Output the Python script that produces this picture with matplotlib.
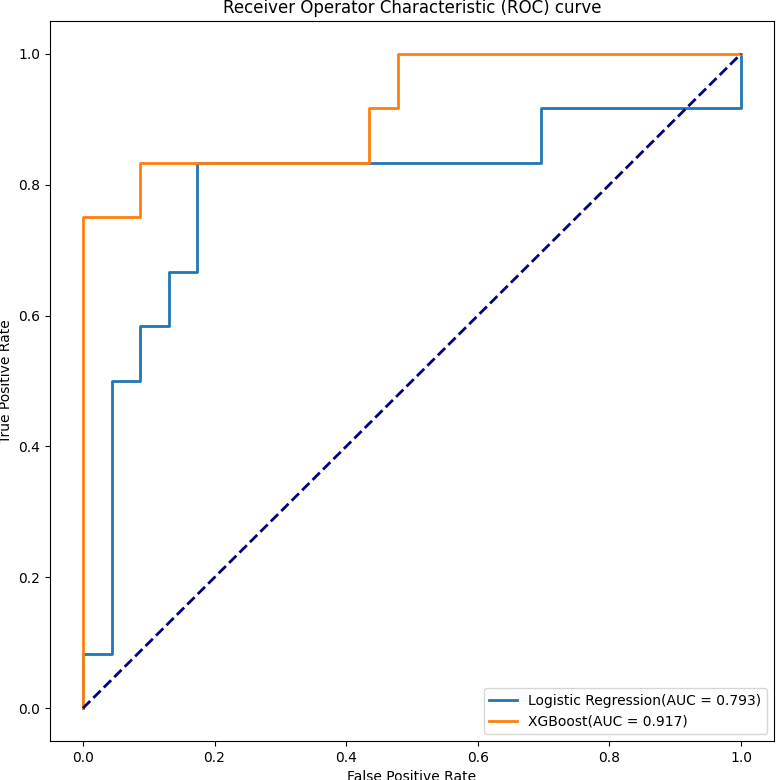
import matplotlib
matplotlib.use("Agg")
import matplotlib.pyplot as plt

# ROC points (23 negatives, 12 positives)
lr_fpr = [0, 0, 1/23, 1/23, 2/23, 2/23, 3/23, 3/23, 4/23, 4/23, 16/23, 16/23, 1, 1]
lr_tpr = [0, 1/12, 1/12, 6/12, 6/12, 7/12, 7/12, 8/12, 8/12, 10/12, 10/12, 11/12, 11/12, 1]
lr_auc = 0.793

xgb_fpr = [0, 0, 2/23, 2/23, 10/23, 10/23, 11/23, 11/23, 1]
xgb_tpr = [0, 9/12, 9/12, 10/12, 10/12, 11/12, 11/12, 1, 1]
xgb_auc = 0.917

fig = plt.figure(figsize=(7.77, 7.8), dpi=100)
ax = fig.add_axes([50/777, 1 - 741/780, 724/777, 720/780])

ax.plot(lr_fpr, lr_tpr, lw=2, label=f"Logistic Regression(AUC = {lr_auc:.3f})")
ax.plot(xgb_fpr, xgb_tpr, lw=2, label=f"XGBoost(AUC = {xgb_auc:.3f})")
ax.plot([0, 1], [0, 1], color="navy", lw=2, linestyle="--")

ax.set_xlabel("False Positive Rate")
ax.set_ylabel("True Positive Rate")
ax.set_title("Receiver Operator Characteristic (ROC) curve")
ax.legend(loc="lower right")

fig.savefig("out.png", dpi=100)
